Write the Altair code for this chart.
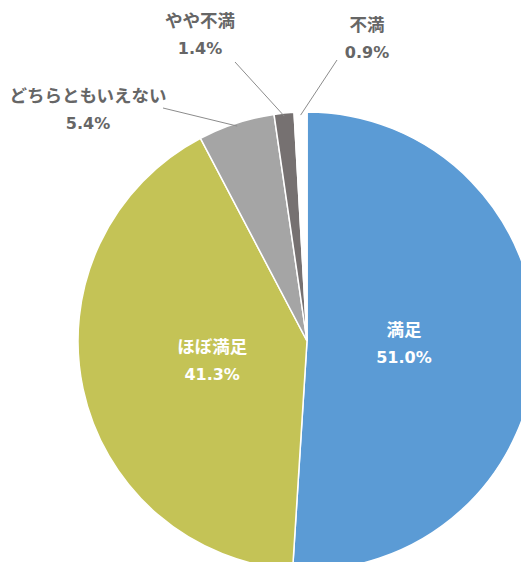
import math
import altair as alt
import pandas as pd

categories = ["満足", "ほぼ満足", "どちらともいえない", "やや不満", "不満"]
values = [51.0, 41.3, 5.4, 1.4, 0.9]
colors = ["#5B9BD5", "#C4C356", "#A5A5A5", "#767171", "#FFFFFF"]

# layout (pixels)
CX, CY, R = 299, 333, 229
inner_r = 97
outer_label_offset = {"どちらともいえない": (-219, -231), "やや不満": (-107, -306), "不満": (60, -302)}
leader_offset = {"どちらともいえない": (-144, -233), "やや不満": (-72, -279), "不満": (30, -281)}
JP_FONT = "Noto Sans CJK JP"
NUM_FONT = "DejaVu Sans"

df = pd.DataFrame({"name": categories, "value": values, "idx": list(range(len(values)))})
total = sum(values)
starts = []
acc = 0.0
for v in values:
    starts.append(acc)
    acc += v
mids = [(s + v / 2) / total * 2 * math.pi for s, v in zip(starts, values)]

rows, lines = [], []
for name, v, a in zip(categories, values, mids):
    pct = f"{v:.1f}%"
    if name in outer_label_offset:
        dx, dy = outer_label_offset[name]
        bx, by = CX + dx, CY + dy
        kind = "outer"
        lx, ly = leader_offset[name]
        lines.append({"x": CX + lx, "y": CY + ly,
                      "x2": CX + (R - 3) * math.sin(a), "y2": CY - (R - 3) * math.cos(a)})
    else:
        bx = CX + inner_r * math.sin(a)
        by = CY - inner_r * math.cos(a)
        kind = "inner"
    rows.append({"x": bx, "y": by - 13.5, "t": name, "kind": kind, "line": "name"})
    rows.append({"x": bx, "y": by + 13.5, "t": pct, "kind": kind, "line": "pct"})
labels = pd.DataFrame(rows)

pie = alt.Chart(df).mark_arc(outerRadius=R, stroke="white", strokeWidth=1.5).encode(
    theta=alt.Theta("value:Q", stack=True),
    order=alt.Order("idx:Q"),
    color=alt.Color("name:N", scale=alt.Scale(domain=categories, range=colors), legend=None),
    x=alt.value(CX),
    y=alt.value(CY),
)

leaders = alt.Chart(pd.DataFrame(lines)).mark_rule(color="#8C8C8C", strokeWidth=1).encode(
    x=alt.X("x:Q", scale=None), y=alt.Y("y:Q", scale=None),
    x2="x2:Q", y2="y2:Q",
)


def text_layer(kind, line, font, size, color):
    return alt.Chart(labels).transform_filter(
        (alt.datum.kind == kind) & (alt.datum.line == line)
    ).mark_text(
        font=font, fontSize=size, fontWeight="bold", color=color, align="center", baseline="middle"
    ).encode(x=alt.X("x:Q", scale=None), y=alt.Y("y:Q", scale=None), text="t:N")


texts = [
    text_layer("inner", "name", JP_FONT, 17.5, "white"),
    text_layer("inner", "pct", NUM_FONT, 16, "white"),
    text_layer("outer", "name", JP_FONT, 17.5, "#666666"),
    text_layer("outer", "pct", NUM_FONT, 16, "#666666"),
]

chart = alt.layer(pie, leaders, *texts).properties(
    width=513, height=554, autosize=alt.AutoSizeParams(type="none"), padding=0
).configure_view(stroke=None)

chart.save("out.html", embed_options={"renderer": "svg", "actions": False})
